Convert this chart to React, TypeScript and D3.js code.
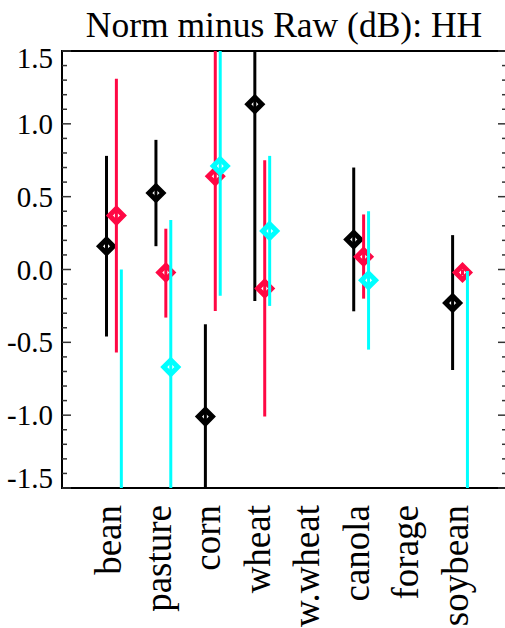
import React, { useEffect, useRef } from 'react';
import * as d3 from 'd3';

const categories = ['bean', 'pasture', 'corn', 'wheat', 'w.wheat', 'canola', 'forage', 'soybean'];

// [mean, lower, upper] per category, null = no data
type Obs = [number, number, number] | null;

const blackSeries: Obs[] = [
    [0.16, -0.46, 0.78],
    [0.525, 0.16, 0.89],
    [-1.01, -1.7, -0.376],
    [1.135, -0.216, 1.7],
    null,
    [0.206, -0.287, 0.7],
    null,
    [-0.23, -0.69, 0.236],
];

const redSeries: Obs[] = [
    [0.37, -0.57, 1.31],
    [-0.02, -0.33, 0.28],
    [0.64, -0.285, 1.7],
    [-0.13, -1.01, 0.75],
    null,
    [0.087, -0.2, 0.378],
    null,
    [-0.02, -0.04, 0.0],
];

const cyanSeries: Obs[] = [
    [-1.8, -3.6, 0.0],
    [-0.67, -1.7, 0.34],
    [0.71, -0.18, 1.7],
    [0.265, -0.25, 0.78],
    null,
    [-0.074, -0.55, 0.4],
    null,
    [-1.8, -3.6, -0.01],
];

const yTicks = [-1.5, -1.0, -0.5, 0.0, 0.5, 1.0, 1.5];

export default function App() {
    const ref = useRef<SVGSVGElement>(null);

    useEffect(() => {
        const svg = d3.select(ref.current);
        svg.selectAll('*').remove();

        const left = 62, right = 507, top = 51, bottom = 488;
        const x = d3.scaleLinear().domain([-1, 8]).range([left, right]);
        const y = d3.scaleLinear().domain([-1.5, 1.5]).range([bottom, top]);
        const font = 'Liberation Serif, Times New Roman, serif';

        svg.append('defs').append('clipPath').attr('id', 'plotclip')
            .append('rect')
            .attr('x', left).attr('y', top)
            .attr('width', right - left).attr('height', bottom - top);

        // title
        svg.append('text')
            .attr('x', 284).attr('y', 37)
            .attr('text-anchor', 'middle')
            .attr('font-family', font)
            .attr('font-size', 35.5)
            .text('Norm minus Raw (dB): HH');

        // frame
        svg.append('rect')
            .attr('x', left).attr('y', top)
            .attr('width', right - left).attr('height', bottom - top)
            .attr('fill', 'none').attr('stroke', '#000').attr('stroke-width', 2);

        // y ticks, both sides, pointing inward
        const minor = d3.range(-15, 16).map((d) => d / 10);
        minor.forEach((v) => {
            const major = Math.abs(Math.round(v * 2) - v * 2) < 1e-6;
            const len = major ? 9 : 5;
            svg.append('line')
                .attr('x1', left).attr('x2', left + len)
                .attr('y1', y(v)).attr('y2', y(v))
                .attr('stroke', '#333').attr('stroke-width', 1.5);
            svg.append('line')
                .attr('x1', right).attr('x2', right - len)
                .attr('y1', y(v)).attr('y2', y(v))
                .attr('stroke', '#333').attr('stroke-width', 1.5);
        });

        svg.selectAll('.ylab')
            .data(yTicks)
            .enter()
            .append('text')
            .attr('class', 'ylab')
            .attr('x', 53)
            .attr('y', (d) => (d === 1.5 ? y(d) + 17 : d === -1.5 ? y(d) : y(d) + 10))
            .attr('text-anchor', 'end')
            .attr('font-family', font)
            .attr('font-size', 29)
            .text((d) => d.toFixed(1));

        // category labels, rotated
        svg.selectAll('.xlab')
            .data(categories)
            .enter()
            .append('text')
            .attr('class', 'xlab')
            .attr('transform', (d, i) => `translate(${x(i) + 10},505) rotate(-90)`)
            .attr('text-anchor', 'end')
            .attr('font-family', font)
            .attr('font-size', 37)
            .text((d) => d);

        const plot = svg.append('g').attr('clip-path', 'url(#plotclip)');

        const series = [
            { data: blackSeries, color: '#000000', offset: -0.1 },
            { data: redSeries, color: '#ff0844', offset: 0.1 },
            { data: cyanSeries, color: '#00ffff', offset: 0.2 },
        ];

        const diamond = (cx: number, cy: number, r: number) =>
            `M${cx},${cy - r}L${cx + r},${cy}L${cx},${cy + r}L${cx - r},${cy}Z`;

        series.forEach((s) => {
            const pts = s.data
                .map((d, i) => (d ? { i, mean: d[0], lo: d[1], hi: d[2] } : null))
                .filter((d) => d !== null) as { i: number; mean: number; lo: number; hi: number }[];

            plot.selectAll(null)
                .data(pts)
                .enter()
                .append('line')
                .attr('x1', (d) => x(d.i + s.offset))
                .attr('x2', (d) => x(d.i + s.offset))
                .attr('y1', (d) => y(d.lo))
                .attr('y2', (d) => y(d.hi))
                .attr('stroke', s.color)
                .attr('stroke-width', 3);

            plot.selectAll(null)
                .data(pts)
                .enter()
                .append('path')
                .attr('d', (d) => diamond(x(d.i + s.offset), y(d.mean), 7))
                .attr('fill', 'none')
                .attr('stroke', s.color)
                .attr('stroke-width', 5);
        });
    }, []);

    return (
        <svg ref={ref} width={505} height={628}
            style={{ position: 'absolute', left: 0, top: 0, background: '#fff' }} />
    );
}
